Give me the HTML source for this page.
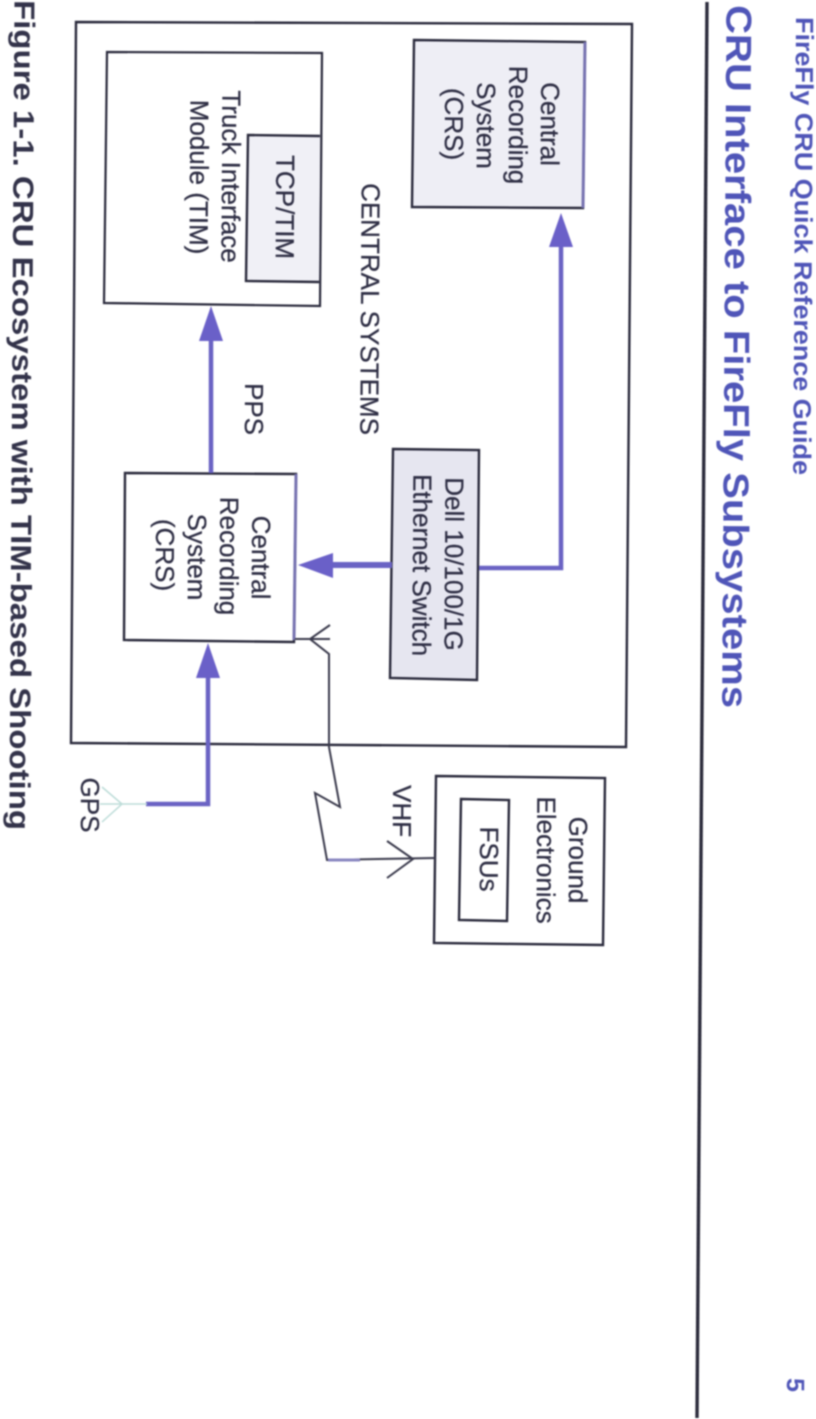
<!DOCTYPE html>
<html>
<head>
<meta charset="utf-8">
<style>
html,body{margin:0;padding:0;background:#fff;width:816px;height:1419px;overflow:hidden}
svg{display:block;filter:blur(.75px)}
text{font-family:"Liberation Sans",sans-serif;fill:#2e2e44}
.c{text-anchor:middle;font-size:26px;stroke:#2e2e44;stroke-width:.25}
.b{fill:#4f55b8;font-weight:bold}
.box{stroke:#2a2a3c;stroke-width:2.4}
.arrow{stroke:#6a63c4;stroke-width:4.5;fill:none}
.head{fill:#6a60c8}
.thin{stroke:#3a3a4c;stroke-width:2;fill:none}
.side{stroke:#7672b0;stroke-width:3;fill:none}
</style>
</head>
<body>
<svg width="816" height="1419" viewBox="0 0 816 1419" xmlns="http://www.w3.org/2000/svg">
<rect width="816" height="1419" fill="#fff"/>

<!-- page furniture -->
<line x1="707" y1="2" x2="697" y2="1418" stroke="#2c2c3c" stroke-width="3.4"/>
<text class="b" transform="translate(796,17) rotate(90.35)" font-size="25" textLength="458" lengthAdjust="spacingAndGlyphs">FireFly CRU Quick Reference Guide</text>
<text class="b" transform="translate(726.5,5) rotate(90.35)" font-size="36" textLength="703" lengthAdjust="spacingAndGlyphs">CRU Interface to FireFly Subsystems</text>
<text class="b" transform="translate(787,1378) rotate(90.35)" font-size="25">5</text>
<text transform="translate(14.5,0) rotate(90.35)" font-size="29" font-weight="bold" style="fill:#33334a" textLength="830" lengthAdjust="spacingAndGlyphs">Figure 1-1. CRU Ecosystem with TIM-based Shooting</text>

<!-- outer box -->
<polygon class="box" points="76,22 632,24 626,747 71,743" fill="#fff"/>

<!-- CRS top -->
<polygon class="box" points="414,40 585,42 583,208 412,207" fill="#eeeef5"/>
<line class="side" x1="585" y1="42" x2="583" y2="208"/>
<!-- TIM -->
<polygon points="107,52 322,53 320,306 104,303" fill="#fff" stroke="#2a2a3c" stroke-width="2.2"/>
<polygon points="248,135 320,136 319,282 246,281" fill="#f0f0f6"/>
<polyline class="box" fill="none" points="320,136 248,135 246,281 319,282"/>
<!-- Dell -->
<polygon class="box" points="393,449 479,450 477,680 390,678" fill="#e6e6f0"/>
<!-- CRS middle -->
<polygon class="box" points="125,473 296,474 294,642 124,640" fill="#fff"/>
<line class="side" x1="296" y1="474" x2="294" y2="640"/>
<!-- Ground -->
<polygon class="box" points="436,776 605,778 603,945 434,943" fill="#fff"/>
<polygon class="box" points="461,799 509,800 507,921 459,920" fill="#fff"/>

<!-- blue connectors -->
<polyline class="arrow" points="479,568 561,568 561,245"/>
<polygon class="head" points="561,213 573,247 549,247"/>
<line class="arrow" x1="392" y1="565" x2="330" y2="565" style="stroke-width:6"/>
<polygon class="head" points="298,565 333,553 333,578"/>
<line class="arrow" x1="211" y1="473" x2="211" y2="338"/>
<polygon class="head" points="211,306 223,341 199,341"/>
<polyline class="arrow" points="146,804 208,804 208,676"/>
<polygon class="head" points="208,643 220,678 196,678"/>

<!-- GPS antenna -->
<polyline points="102,787 122,804 102,822" fill="none" stroke="#bcdcd8" stroke-width="1.5"/>
<line x1="100" y1="804" x2="147" y2="804" stroke="#bcdcd8" stroke-width="1.5"/>

<!-- VHF link -->
<line class="thin" x1="295" y1="639" x2="330" y2="639"/>
<polyline class="thin" points="330,625 310,639 329,654 329,747 340,807 315,793 327,860 435,858"/>
<line x1="328" y1="860" x2="360" y2="860" stroke="#8a86c0" stroke-width="3"/>
<polyline class="thin" points="387,841 413,859 387,878"/>

<!-- labels -->
<g transform="translate(1,0)">
<text class="c" transform="translate(540,124) rotate(90.35)">Central</text>
<text class="c" transform="translate(508,125) rotate(90.35)">Recording</text>
<text class="c" transform="translate(476,125.5) rotate(90.35)">System</text>
<text class="c" transform="translate(444,124) rotate(90.35)">(CRS)</text>

<text class="c" transform="translate(360,309) rotate(90.35)">CENTRAL SYSTEMS</text>

<text class="c" transform="translate(275,207) rotate(90.35)">TCP/TIM</text>
<text class="c" transform="translate(221,176.5) rotate(90.35)">Truck Interface</text>
<text class="c" transform="translate(189,177) rotate(90.35)">Module (TIM)</text>

<text class="c" transform="translate(244,409) rotate(90.35)">PPS</text>

<text class="c" transform="translate(444,564) rotate(90.35)">Dell 10/100/1G</text>
<text class="c" transform="translate(412,565) rotate(90.35)">Ethernet Switch</text>

<text class="c" transform="translate(251,557.5) rotate(90.35)">Central</text>
<text class="c" transform="translate(219,556) rotate(90.35)">Recording</text>
<text class="c" transform="translate(187,557) rotate(90.35)">System</text>
<text class="c" transform="translate(155,555) rotate(90.35)">(CRS)</text>

<text class="c" transform="translate(80,805) rotate(90.35)">GPS</text>
<text class="c" transform="translate(392,811) rotate(90.35)">VHF</text>

<text class="c" transform="translate(568,860) rotate(90.35)">Ground</text>
<text class="c" transform="translate(536,860) rotate(90.35)">Electronics</text>
<text class="c" transform="translate(479,859) rotate(90.35)">FSUs</text>
</g>
</svg>
</body>
</html>
